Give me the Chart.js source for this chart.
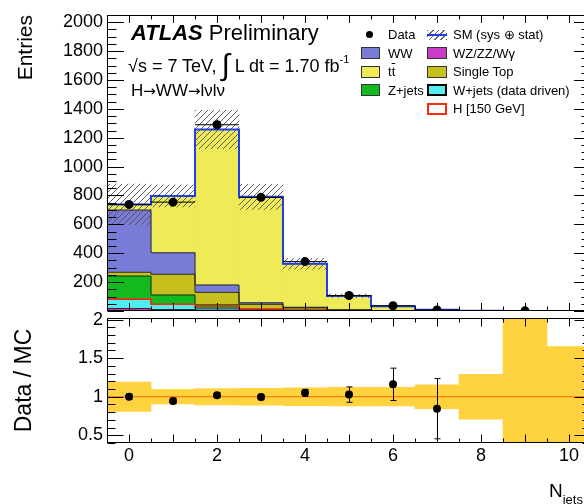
<!DOCTYPE html>
<html><head><meta charset="utf-8">
<script src="https://cdn.jsdelivr.net/npm/chart.js@4.4.1/dist/chart.umd.min.js"></script>
<style>
html,body{margin:0;padding:0;background:#fff;}
body{width:584px;height:504px;overflow:hidden;position:relative;font-family:"Liberation Sans",Arimo,Arial,Helvetica,sans-serif;color:#000;}
#wTop{position:absolute;left:0;top:0;width:600px;height:330px;}
#wRat{position:absolute;left:0;top:302px;width:600px;height:202px;}
.t{position:absolute;white-space:nowrap;line-height:1;}
.mk{position:absolute;box-sizing:border-box;}
.ar{font-family:"DejaVu Sans",sans-serif;font-size:15px;}
</style></head><body>
<div id="wTop"><canvas id="cTop" width="600" height="330"></canvas></div>
<div id="wRat"><canvas id="cRat" width="600" height="202"></canvas></div>

<div class="t" style="left:131px;top:22px;font-size:22px;"><b><i>ATLAS</i></b> Preliminary</div>
<div class="t" style="left:128px;top:56.5px;font-size:18px;">√s = 7 TeV, <span style="font-size:30px;line-height:0;position:relative;top:3px;">∫</span> L dt = 1.70 fb<span style="font-size:11px;position:relative;top:-9px;">-1</span></div>
<div class="t" style="left:131px;top:82.3px;font-size:17px;">H<span class="ar">→</span>WW<span class="ar">→</span>lνlν</div>

<div id="legend"></div>

<div class="t" style="left:549px;top:481px;font-size:19px;">N<span style="font-size:13px;position:relative;top:7px;">jets</span></div>

<script>
// ---------------- data ----------------
const bins        = [0, 1, 2, 3, 4, 5, 6, 7, 8, 9, 10];
const wzzzWg      = [17, 10, 6, 3, 1, 0.5, 0.3, 0.1, 0.05, 0, 0];
const wJets       = [64, 36, 14, 5, 2, 1, 0.3, 0.1, 0, 0, 0];
const zJets       = [161, 65, 22, 8, 3, 1, 0.4, 0.1, 0.05, 0, 0];
const singleTop   = [26, 143, 87, 30, 15, 4, 1.5, 0.5, 0.1, 0.05, 0];
const wwBkg       = [431, 149, 51, 11, 5, 1.5, 0.5, 0.2, 0.1, 0.05, 0.05];
const ttbar       = [39, 393, 1077, 734, 301, 96, 30, 7.3, 1.7, 0.3, 0.45];
const higgs150    = [83, 47, 35, 15, 6, 2, 0.5, 0.1, 0, 0, 0];
const dataCounts  = [738, 754, 1290, 787, 342, 107, 36, 7, null, 1, null];
const dataErrors  = [27, 27.5, 36, 28, 18.5, 10.3, 6, 2.6, null, 1, null];
const mcRelUnc    = [0.19, 0.095, 0.105, 0.11, 0.115, 0.12, 0.12, 0.155, 0.29, 2.0, 0.65];
const ratioValues = [1.00, 0.945, 1.02, 0.995, 1.05, 1.027, 1.16, 0.845, null, null, null];
const ratioErrors = [0.035, 0.035, 0.03, 0.035, 0.045, 0.10, 0.21, 0.39, null, null, null];
const entriesAxis = {min: 0, max: 2050, labelStep: 200, minorStep: 50};
const ratioAxis   = {min: 0.4, max: 2.02, labelStep: 0.5, minorStep: 0.1};
const njetsAxis   = {min: -0.5, max: 10.5, labelStep: 2, majorStep: 1, minorStep: 0.5};

// ---------------- styling ----------------
const FONT = '"Liberation Sans", Arimo, Arial, Helvetica, sans-serif';
Chart.defaults.font.family = FONT;
Chart.defaults.color = '#000';
const COL = {
  wz: '#c83cc8', wjets: '#50eef0', zjets: '#14b920', stop: '#c6c01e',
  ww: '#787cd6', tt: '#eeea58', higgs: '#ff2a0a', sm: '#1f3fe8',
  band: '#ffd23f', unity: '#ff6a00'
};
const stackComponents = [
  {label: 'WZ/ZZ/Wγ', values: wzzzWg, color: COL.wz},
  {label: 'W+jets (data driven)', values: wJets, color: COL.wjets},
  {label: 'Z+jets', values: zJets, color: COL.zjets},
  {label: 'Single Top', values: singleTop, color: COL.stop},
  {label: 'WW', values: wwBkg, color: COL.ww},
  {label: 'tt̄', values: ttbar, color: COL.tt}
];
const smTotal = bins.map((_, i) => stackComponents.reduce((s, c) => s + c.values[i], 0));
const binEdges = bins.map(b => b - 0.5).concat([bins[bins.length - 1] + 0.5]);
const stepData = vals => binEdges.map((e, i) => ({x: e, y: vals[Math.min(i, vals.length - 1)]}));

function makeHatch() {
  const c = document.createElement('canvas'); c.width = 6; c.height = 6;
  const g = c.getContext('2d');
  g.strokeStyle = 'rgba(80,80,80,0.9)'; g.lineWidth = 1;
  g.beginPath();
  g.moveTo(-1, 7); g.lineTo(7, -1);
  g.moveTo(-1, 1); g.lineTo(1, -1);
  g.moveTo(5, 7); g.lineTo(7, 5);
  g.stroke();
  return g.createPattern(c, 'repeat');
}

// ROOT-like frame with inward ticks on all four sides
function rootFrame(cfg) {
  return {
    id: 'rootFrame',
    afterDatasetsDraw(chart) {
      const {ctx, chartArea: a} = chart;
      const xs = chart.scales.x, ys = chart.scales.y;
      const L = Math.round(a.left) + 0.5, R = Math.round(a.right) - 0.5;
      const T = Math.round(a.top) + 0.5, B = Math.round(a.bottom) - 0.5;
      ctx.save();
      ctx.strokeStyle = '#000'; ctx.lineWidth = 1;
      ctx.beginPath();
      const nX = Math.round((xs.max - xs.min) / cfg.xMinor);
      for (let i = 0; i <= nX; i++) {
        const v = xs.min + i * cfg.xMinor;
        const major = Math.abs(v / cfg.xMajor - Math.round(v / cfg.xMajor)) < 1e-6;
        const len = major ? cfg.xMajLen : cfg.xMinLen;
        const px = Math.round(xs.getPixelForValue(v)) + 0.5;
        ctx.moveTo(px, B); ctx.lineTo(px, B - len);
        ctx.moveTo(px, T); ctx.lineTo(px, T + len);
      }
      const nY0 = Math.ceil(ys.min / cfg.yMinor - 1e-6);
      const nY1 = Math.floor(ys.max / cfg.yMinor + 1e-6);
      for (let k = nY0; k <= nY1; k++) {
        const v = Math.round(k * cfg.yMinor * 1e6) / 1e6;
        const major = Math.abs(v / cfg.yMajor - Math.round(v / cfg.yMajor)) < 1e-6;
        const len = major ? cfg.yMajLen : cfg.yMinLen;
        const py = Math.round(ys.getPixelForValue(v)) + 0.5;
        ctx.moveTo(L, py); ctx.lineTo(L + len, py);
        ctx.moveTo(R, py); ctx.lineTo(R - len, py);
      }
      ctx.stroke();
      ctx.strokeRect(L, T, R - L, B - T);
      ctx.restore();
    }
  };
}
function errorBars(values, errors, yId, xerr, cap) {
  return {
    id: 'errorBars',
    afterDatasetsDraw(chart) {
      const {ctx, chartArea: a} = chart;
      const xs = chart.scales.x, ys = chart.scales[yId];
      ctx.save();
      ctx.beginPath(); ctx.rect(a.left, a.top, a.right - a.left, a.bottom - a.top); ctx.clip();
      ctx.strokeStyle = '#000'; ctx.lineWidth = 1;
      ctx.beginPath();
      values.forEach((v, i) => {
        if (v == null) return;
        const e = errors[i];
        const px = Math.round(xs.getPixelForValue(bins[i])) + 0.5;
        const py = ys.getPixelForValue(v);
        if (xerr) {
          ctx.moveTo(xs.getPixelForValue(bins[i] - 0.5), py);
          ctx.lineTo(xs.getPixelForValue(bins[i] + 0.5), py);
        }
        const p1 = ys.getPixelForValue(v + e), p2 = ys.getPixelForValue(v - e);
        ctx.moveTo(px, p1); ctx.lineTo(px, p2);
        if (cap) {
          ctx.moveTo(px - cap, p1); ctx.lineTo(px + cap, p1);
          ctx.moveTo(px - cap, p2); ctx.lineTo(px + cap, p2);
        }
      });
      ctx.stroke();
      ctx.restore();
    }
  };
}

const hatch = makeHatch();
const barCommon = {type: 'bar', borderWidth: 0, barPercentage: 1, categoryPercentage: 1};

// ---------------- top panel ----------------
const topDatasets = [];
topDatasets.push({type: 'line', label: 'Data', yAxisID: 'yu', order: 0,
  data: bins.map((b, i) => ({x: b, y: dataCounts[i]})),
  showLine: false, pointRadius: 4.5, pointBackgroundColor: '#000', pointBorderWidth: 0});
topDatasets.push({type: 'line', label: 'SM (sys ⊕ stat)', yAxisID: 'yu', order: 1,
  data: stepData(smTotal), stepped: 'before', borderColor: COL.sm, borderWidth: 2, pointRadius: 0, fill: false});
topDatasets.push(Object.assign({}, barCommon, {label: 'SM unc', yAxisID: 'yu', order: 2,
  data: bins.map((b, i) => ({x: b, y: [smTotal[i] * (1 - mcRelUnc[i]), smTotal[i] * (1 + mcRelUnc[i])]})),
  backgroundColor: hatch}));
topDatasets.push({type: 'line', label: 'H [150 GeV]', yAxisID: 'yu', order: 3,
  data: stepData(higgs150), stepped: 'before', borderColor: COL.higgs, borderWidth: 1.5, pointRadius: 0, fill: false});
stackComponents.forEach(c => topDatasets.push({type: 'line', label: c.label + ' outline', yAxisID: 'y', order: 5,
  data: stepData(c.values), stepped: 'before', borderColor: 'rgba(30,30,30,0.9)', borderWidth: 1, pointRadius: 0, fill: false}));
stackComponents.forEach(c => topDatasets.push(Object.assign({}, barCommon, {label: c.label, yAxisID: 'y', order: 10,
  data: bins.map((b, i) => ({x: b, y: c.values[i]})), backgroundColor: c.color})));

new Chart(document.getElementById('cTop'), {
  type: 'bar',
  data: {datasets: topDatasets},
  options: {
    responsive: false, animation: false, devicePixelRatio: 1, events: [],
    layout: {padding: {left: 0, right: 9, top: 15, bottom: 19}},
    plugins: {legend: {display: false}, tooltip: {enabled: false}},
    scales: {
      x: {type: 'linear', min: njetsAxis.min, max: njetsAxis.max, offset: false, stacked: true, display: false,
          ticks: {stepSize: njetsAxis.labelStep, includeBounds: false}},
      y: {type: 'linear', stacked: true, min: entriesAxis.min, max: entriesAxis.max,
          afterFit(s) { s.width = 107; },
          grid: {display: false, drawTicks: false}, border: {display: false},
          ticks: {stepSize: entriesAxis.labelStep, includeBounds: false, padding: 4,
                  font: {size: 18}, color: '#000', callback: v => (v === 0 ? '' : String(v))},
          title: {display: true, text: 'Entries', align: 'end', font: {size: 21}, color: '#000', padding: {top: 13.5, bottom: 0}}},
      yu: {type: 'linear', stacked: false, min: entriesAxis.min, max: entriesAxis.max, display: false}
    }
  },
  plugins: [
    rootFrame({xMinor: njetsAxis.minorStep, xMajor: njetsAxis.majorStep, xMajLen: 7.5, xMinLen: 4,
               yMinor: entriesAxis.minorStep, yMajor: entriesAxis.labelStep, yMajLen: 16.5, yMinLen: 9}),
    errorBars(dataCounts, dataErrors, 'yu', true, 0)
  ]
});

// ---------------- ratio panel ----------------
const ratioDatasets = [
  {type: 'line', label: 'Data / MC', order: 0,
   data: bins.map((b, i) => ({x: b, y: ratioValues[i]})),
   showLine: false, pointRadius: 4, pointBackgroundColor: '#000', pointBorderWidth: 0},
  {type: 'line', label: 'unity', order: 1,
   data: binEdges.map(e => ({x: e, y: 1})), borderColor: COL.unity, borderWidth: 1, pointRadius: 0, fill: false},
  Object.assign({}, barCommon, {label: 'MC unc', order: 2,
   data: bins.map((b, i) => ({x: b, y: [1 - mcRelUnc[i], 1 + mcRelUnc[i]]})), backgroundColor: COL.band})
];

new Chart(document.getElementById('cRat'), {
  type: 'bar',
  data: {datasets: ratioDatasets},
  options: {
    responsive: false, animation: false, devicePixelRatio: 1, events: [],
    layout: {padding: {left: 0, right: 9, top: 16, bottom: 0}},
    plugins: {legend: {display: false}, tooltip: {enabled: false}},
    scales: {
      x: {type: 'linear', min: njetsAxis.min, max: njetsAxis.max, offset: false,
          afterFit(s) { s.height = 61; },
          grid: {display: false, drawTicks: false}, border: {display: false},
          ticks: {stepSize: njetsAxis.labelStep, includeBounds: false, padding: 2, maxRotation: 0,
                  font: {size: 18}, color: '#000', callback: v => String(v)}},
      y: {type: 'linear', min: ratioAxis.min, max: ratioAxis.max,
          afterFit(s) { s.width = 107; },
          grid: {display: false, drawTicks: false}, border: {display: false},
          ticks: {stepSize: ratioAxis.labelStep, includeBounds: false, padding: 4,
                  font: {size: 18}, color: '#000', callback: v => String(v)},
          title: {display: true, text: 'Data / MC', align: 'center', font: {size: 23}, color: '#000', padding: {top: 11, bottom: 0}}}
    }
  },
  plugins: [
    rootFrame({xMinor: njetsAxis.minorStep, xMajor: njetsAxis.majorStep, xMajLen: 8, xMinLen: 4,
               yMinor: ratioAxis.minorStep, yMajor: ratioAxis.labelStep, yMajLen: 16, yMinLen: 8}),
    errorBars(ratioValues, ratioErrors, 'y', false, 3)
  ]
});

// ---------------- legend (HTML text) ----------------
const legendEntries = [
  {col: 0, row: 0, kind: 'dot', html: 'Data'},
  {col: 0, row: 1, kind: 'box', fill: COL.ww, border: '1px solid #333', html: 'WW'},
  {col: 0, row: 2, kind: 'box', fill: COL.tt, border: '1px solid #333', html: 't<span style="text-decoration:overline">t</span>'},
  {col: 0, row: 3, kind: 'box', fill: COL.zjets, border: '1px solid #333', html: 'Z+jets'},
  {col: 1, row: 0, kind: 'sm', html: 'SM (sys ⊕ stat)'},
  {col: 1, row: 1, kind: 'box', fill: COL.wz, border: '1px solid #333', html: 'WZ/ZZ/Wγ'},
  {col: 1, row: 2, kind: 'box', fill: COL.stop, border: '1px solid #333', html: 'Single Top'},
  {col: 1, row: 3, kind: 'box', fill: COL.wjets, border: '2px solid #000', html: 'W+jets (data driven)'},
  {col: 1, row: 4, kind: 'box', fill: '#fff', border: '2px solid ' + COL.higgs, html: 'H [150 GeV]'}
];
const lg = document.getElementById('legend');
const colX = [{box: 361, w: 19, text: 388, dot: 369.5}, {box: 427, w: 20, text: 453}];
legendEntries.forEach(e => {
  const base = 39 + 18.5 * e.row;
  const cy = base - 4.5;
  const c = colX[e.col];
  const m = document.createElement('div');
  m.className = 'mk';
  if (e.kind === 'dot') {
    Object.assign(m.style, {left: (c.dot - 3.5) + 'px', top: (cy - 3.5) + 'px', width: '7px', height: '7px', borderRadius: '50%', background: '#000'});
  } else if (e.kind === 'sm') {
    Object.assign(m.style, {left: c.box + 'px', top: (cy - 5) + 'px', width: c.w + 'px', height: '10px',
      background: 'repeating-linear-gradient(135deg, #666 0 1px, transparent 1px 4px)'});
    const ln = document.createElement('div');
    Object.assign(ln.style, {position: 'absolute', left: '0', top: '4px', width: '100%', height: '2px', background: COL.sm});
    m.appendChild(ln);
  } else {
    Object.assign(m.style, {left: c.box + 'px', top: (cy - 6) + 'px', width: c.w + 'px', height: '12px', background: e.fill, border: e.border});
  }
  lg.appendChild(m);
  const t = document.createElement('div');
  t.className = 't';
  Object.assign(t.style, {left: c.text + 'px', top: (base - 11) + 'px', fontSize: '13px'});
  t.innerHTML = e.html;
  lg.appendChild(t);
});
</script>
</body></html>
